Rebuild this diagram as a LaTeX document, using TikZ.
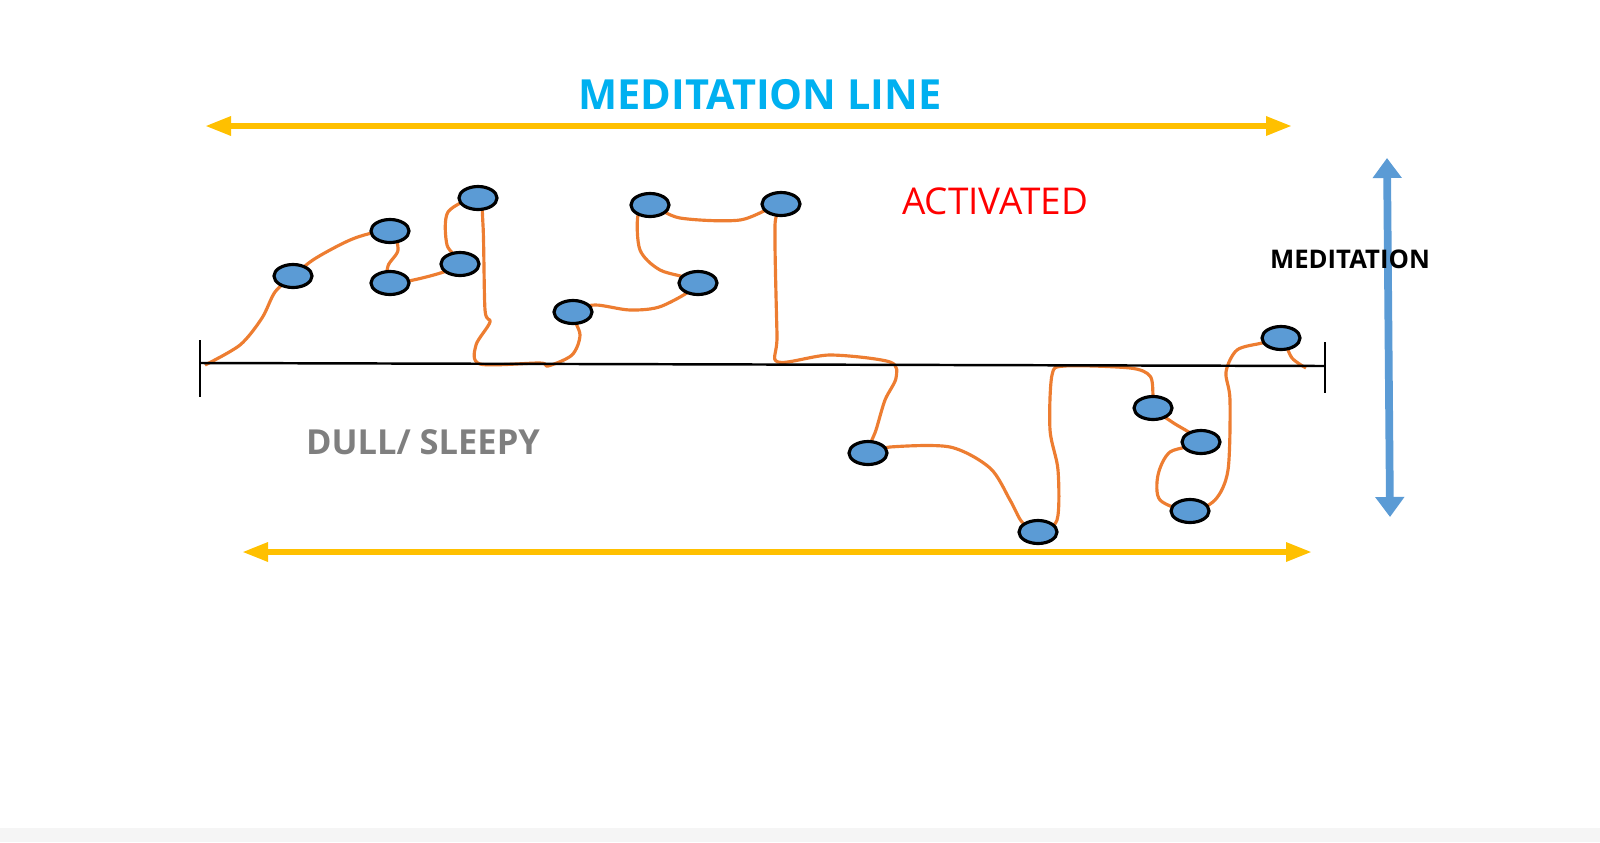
\documentclass[tikz,border=0pt]{standalone}
\usepackage{fontspec}
\setmainfont{Open Sans}
\usetikzlibrary{arrows.meta,backgrounds,shapes.geometric}
\definecolor{cyanT}{HTML}{00B0F0}
\definecolor{goldA}{HTML}{FFC000}
\definecolor{blueM}{HTML}{5B9BD5}
\definecolor{orangeW}{HTML}{ED7D31}
\definecolor{greyT}{HTML}{7F7F7F}
\tikzset{
  dot/.style={draw=black, line width=0.9pt, fill=blueM, ellipse, minimum width=0.38cm, minimum height=0.23cm, inner sep=0pt},
  gold/.style={goldA, line width=1.7pt, {Triangle[length=0.26cm,width=0.18cm]}-{Triangle[length=0.26cm,width=0.18cm]}},
  wig/.style={orangeW, line width=0.9pt, line join=round}
}
\begin{document}
\begin{tikzpicture}[x=0.01cm,y=-0.01cm]
\useasboundingbox (0,0) rectangle (1600,842);
\fill[gray!8] (0,828) rectangle (1600,842);

% Titre et fleches
\node[cyanT, font=\bfseries\fontsize{11.8}{12}\selectfont] (titre) at (760,95) {MEDITATION LINE};
\coordinate (ht1) at (205,126); \coordinate (ht2) at (1292,126);
\draw[gold] (ht1) -- (ht2);
\coordinate (bs1) at (242,552); \coordinate (bs2) at (1312,552);
\draw[gold] (bs1) -- (bs2);
\coordinate (vm1) at (1387,158); \coordinate (vm2) at (1390,517);
\draw[blueM, line width=2.2pt, {Triangle[length=0.2cm,width=0.28cm]}-{Triangle[length=0.2cm,width=0.28cm]}] (vm1) -- (vm2);

% Textes
\node[font=\bfseries\fontsize{7.3}{7.5}\selectfont] (med) at (1350,259) {MEDITATION};
\node[red, font=\fontsize{10.5}{11}\selectfont] (act) at (995,201) {ACTIVATED};
\node[greyT, font=\bfseries\fontsize{9.8}{10}\selectfont] (dull) at (423,442) {DULL/ SLEEPY};

% Ligne de base
\coordinate (b1) at (200,363); \coordinate (b2) at (1325,366);
\draw[line width=0.7pt] (b1) -- (b2);
\draw[line width=0.7pt] (200,340) -- (200,397);
\draw[line width=0.7pt] (1325,342) -- (1325,393);

% Sommets
\node[dot] (n1) at (293,276) {};
\node[dot] (n2) at (390,231) {};
\node[dot] (n3) at (390,283) {};
\node[dot] (n4) at (460,264) {};
\node[dot] (n5) at (478,198) {};
\node[dot] (n6) at (573,312) {};
\node[dot] (n7) at (698,283) {};
\node[dot] (n8) at (650,205) {};
\node[dot] (n9) at (781,204) {};
\node[dot] (n10) at (868,453) {};
\node[dot] (n11) at (1038,532) {};
\node[dot] (n12) at (1153,408) {};
\node[dot] (n13) at (1201,442) {};
\node[dot] (n14) at (1190,511) {};
\node[dot] (n15) at (1281,338) {};

% Trajet
\begin{scope}[on background layer]
\draw[wig] plot[smooth, tension=0.5] coordinates {(205,365) (240,345) (262,318) (275,292) (n1)
  (316,258) (355,238) (n2) (398,250) (388,266) (n3) (430,276) (n4) (447,245) (448,212) (n5)
  (483,225) (485,310) (490,322) (476,345) (480,364) (540,363) (548,366) (572,355) (580,335) (n6)
  (595,305) (630,310) (662,306) (n7) (660,270) (640,250) (638,215) (n8) (680,218) (740,220) (n9)
  (775,225) (777,335) (778,362) (830,355) (890,362) (896,378) (885,400) (876,430) (n10)
  (890,447) (950,447) (990,468) (1010,500) (1022,522) (n11) (1057,520) (1058,470) (1050,430)
  (1052,375) (1065,366) (1130,368) (1150,376) (1153,395) (n12) (1172,422) (n13)
  (1170,452) (1158,475) (1160,500) (n14) (1215,500) (1228,470) (1230,400) (1226,372) (1237,350) (1262,343) (n15)
  (1292,358) (1306,368)};
\end{scope}
\end{tikzpicture}
\end{document}
